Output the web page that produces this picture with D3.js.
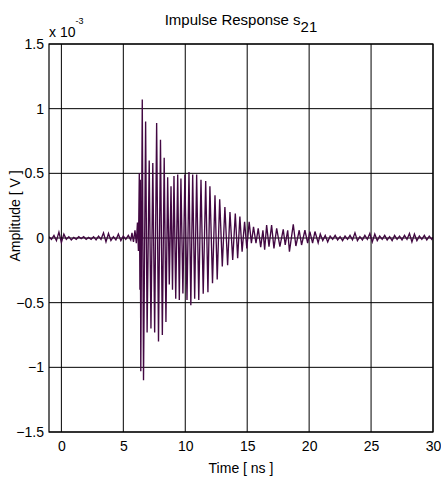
<!DOCTYPE html>
<html>
<head>
<meta charset="utf-8">
<script src="https://cdn.jsdelivr.net/npm/d3@7"></script>
<style>
  body { margin: 0; background: #fff; }
  text { font-family: "Liberation Sans", Arial, sans-serif; fill: #000; }
</style>
</head>
<body>
<div id="chart"></div>
<script>

// time in ns, amplitude in units of 1e-3 V
var noiseBefore = [
  [-1.0, 0.01], [-0.8, -0.01], [-0.6, 0.02], [-0.4, -0.02], [-0.2, 0.045], [0.0, -0.035],
  [0.2, 0.03], [0.4, -0.01], [0.6, 0.01], [0.8, -0.015], [1.0, 0.005], [1.2, -0.01],
  [1.4, 0.01], [1.6, -0.005], [1.8, 0.01], [2.0, -0.01], [2.2, 0.005], [2.4, -0.01],
  [2.6, 0.01], [2.8, -0.015], [3.0, 0.015], [3.2, -0.01], [3.4, 0.04], [3.6, -0.03],
  [3.8, 0.035], [4.0, -0.02], [4.2, 0.01], [4.4, -0.015], [4.6, 0.03], [4.8, -0.02],
  [5.0, 0.015], [5.2, -0.01], [5.4, 0.02], [5.6, -0.015]
];

var burst = [
  [5.70, 0.04], [5.82, -0.03], [5.94, 0.06], [6.05, -0.04], [6.14, 0.12], [6.22, -0.10],
  [6.29, 0.50], [6.34, -0.40], [6.37, 0.45], [6.41, -1.03], [6.53, 1.07], [6.63, -1.10],
  [6.80, 0.90], [6.92, -0.73], [7.09, 0.60], [7.23, -0.70], [7.38, 0.58], [7.53, -0.73],
  [7.69, 0.89], [7.84, -0.80], [8.00, 0.76], [8.15, -0.75], [8.30, 0.62], [8.44, -0.65],
  [8.58, 0.47], [8.71, -0.36], [8.85, 0.40], [8.97, -0.40], [9.09, 0.48], [9.23, -0.47],
  [9.39, 0.49], [9.52, -0.48], [9.65, 0.46], [9.81, -0.43], [9.97, 0.49], [10.14, -0.48],
  [10.30, 0.51], [10.45, -0.52], [10.60, 0.49], [10.76, -0.47], [10.92, 0.49], [11.09, -0.48],
  [11.27, 0.45], [11.45, -0.43], [11.65, 0.44], [11.83, -0.42], [11.99, 0.40], [12.20, -0.35],
  [12.40, 0.33], [12.58, -0.32], [12.78, 0.30], [12.99, -0.22], [13.20, 0.24], [13.42, -0.21],
  [13.61, 0.20], [13.83, -0.17], [14.04, 0.19], [14.23, -0.157], [14.41, 0.165], [14.59, -0.106],
  [14.79, 0.126], [14.97, -0.08], [15.16, 0.126], [15.34, -0.04], [15.51, 0.087], [15.71, -0.04],
  [15.89, 0.075], [16.09, -0.07], [16.27, 0.06], [16.41, -0.09], [16.57, 0.10], [16.76, -0.067],
  [16.97, 0.10], [17.16, -0.08], [17.38, 0.075], [17.64, -0.067], [17.91, 0.067], [18.07, -0.054],
  [18.27, 0.06], [18.41, -0.106], [18.72, 0.106], [18.93, -0.062], [19.20, 0.06], [19.39, -0.054],
  [19.66, 0.06], [19.88, -0.04], [20.06, 0.05], [20.28, -0.04], [20.47, 0.05], [20.73, -0.037]
];

var noiseAfter = [
  [20.9, 0.03], [21.1, -0.02], [21.3, 0.02], [21.5, -0.03], [21.7, 0.015], [21.9, -0.01],
  [22.1, 0.02], [22.3, -0.015], [22.5, 0.01], [22.7, -0.02], [22.9, 0.015], [23.1, -0.01],
  [23.3, 0.02], [23.5, -0.015], [23.7, 0.04], [23.9, -0.02], [24.1, 0.01], [24.3, -0.015],
  [24.5, 0.02], [24.7, -0.01], [24.9, 0.035], [25.1, -0.03], [25.3, 0.03], [25.5, -0.02],
  [25.7, 0.015], [25.9, -0.01], [26.1, 0.02], [26.3, -0.015], [26.5, 0.01], [26.7, -0.02],
  [26.9, 0.02], [27.1, -0.01], [27.3, 0.015], [27.5, -0.015], [27.7, 0.02], [27.9, -0.01],
  [28.1, 0.035], [28.3, -0.03], [28.5, 0.03], [28.7, -0.02], [28.9, 0.015], [29.1, -0.01],
  [29.3, 0.02], [29.5, -0.015], [29.7, 0.015], [29.9, -0.01], [30.0, 0.005]
];

var xTicks = [0, 5, 10, 15, 20, 25, 30];
var yTicks = [-1.5, -1, -0.5, 0, 0.5, 1, 1.5];

var margin = { top: 44, right: 8, bottom: 49, left: 49 };
var width = 441 - margin.left - margin.right,
    height = 481 - margin.top - margin.bottom;

var svg = d3.select("#chart").append("svg")
    .attr("width", 441)
    .attr("height", 481);

var g = svg.append("g")
    .attr("transform", "translate(" + margin.left + "," + margin.top + ")");

var x = d3.scaleLinear().domain([-1, 30]).range([0, width]);
var y = d3.scaleLinear().domain([-1.5, 1.5]).range([height, 0]);

// grid
g.selectAll(".vgrid").data(xTicks).enter().append("line")
    .attr("class", "vgrid")
    .attr("x1", function(d) { return x(d); })
    .attr("x2", function(d) { return x(d); })
    .attr("y1", 0).attr("y2", height)
    .attr("stroke", "#000").attr("stroke-width", 1);

g.selectAll(".hgrid").data(yTicks).enter().append("line")
    .attr("class", "hgrid")
    .attr("x1", 0).attr("x2", width)
    .attr("y1", function(d) { return y(d); })
    .attr("y2", function(d) { return y(d); })
    .attr("stroke", "#000").attr("stroke-width", 1);

g.append("clipPath").attr("id", "clip")
  .append("rect").attr("width", width).attr("height", height);

var signal = noiseBefore.concat(burst, noiseAfter);

var line = d3.line()
    .x(function(d) { return x(d[0]); })
    .y(function(d) { return y(d[1]); });

g.append("path")
    .datum(signal)
    .attr("clip-path", "url(#clip)")
    .attr("fill", "none")
    .attr("stroke", "#420842")
    .attr("stroke-width", 1.35)
    .attr("d", line);

// frame
g.append("rect")
    .attr("width", width).attr("height", height)
    .attr("fill", "none").attr("stroke", "#000").attr("stroke-width", 1.2);

// axes (labels only, grid does the lines)
var xAxis = d3.axisBottom(x).tickValues(xTicks).tickSize(0).tickPadding(9);
var yAxis = d3.axisLeft(y).tickValues(yTicks).tickSize(0).tickPadding(5)
    .tickFormat(function(d) { return d3.format("")(d); });

g.append("g")
    .attr("transform", "translate(0," + height + ")")
    .call(xAxis)
    .call(function(a) { a.select(".domain").remove(); })
    .selectAll("text").style("font-size", "14px");

g.append("g")
    .call(yAxis)
    .call(function(a) { a.select(".domain").remove(); })
    .selectAll("text").style("font-size", "14px");

// exponent
var ex = svg.append("text").attr("x", 49).attr("y", 37).style("font-size", "14px");
ex.append("tspan").text("x 10");
ex.append("tspan").attr("dy", -13).style("font-size", "9px").text("-3");

// title
var t = svg.append("text").attr("x", 241).attr("y", 25)
    .attr("text-anchor", "middle").style("font-size", "15px");
t.append("tspan").text("Impulse Response s");
t.append("tspan").attr("dy", 7).text("21");

svg.append("text")
    .attr("x", 241).attr("y", 473)
    .attr("text-anchor", "middle").style("font-size", "14px")
    .text("Time [ ns ]");

svg.append("text")
    .attr("transform", "translate(20,216) rotate(-90)")
    .attr("text-anchor", "middle").style("font-size", "14px")
    .text("Amplitude [ V ]");

</script>
</body>
</html>
